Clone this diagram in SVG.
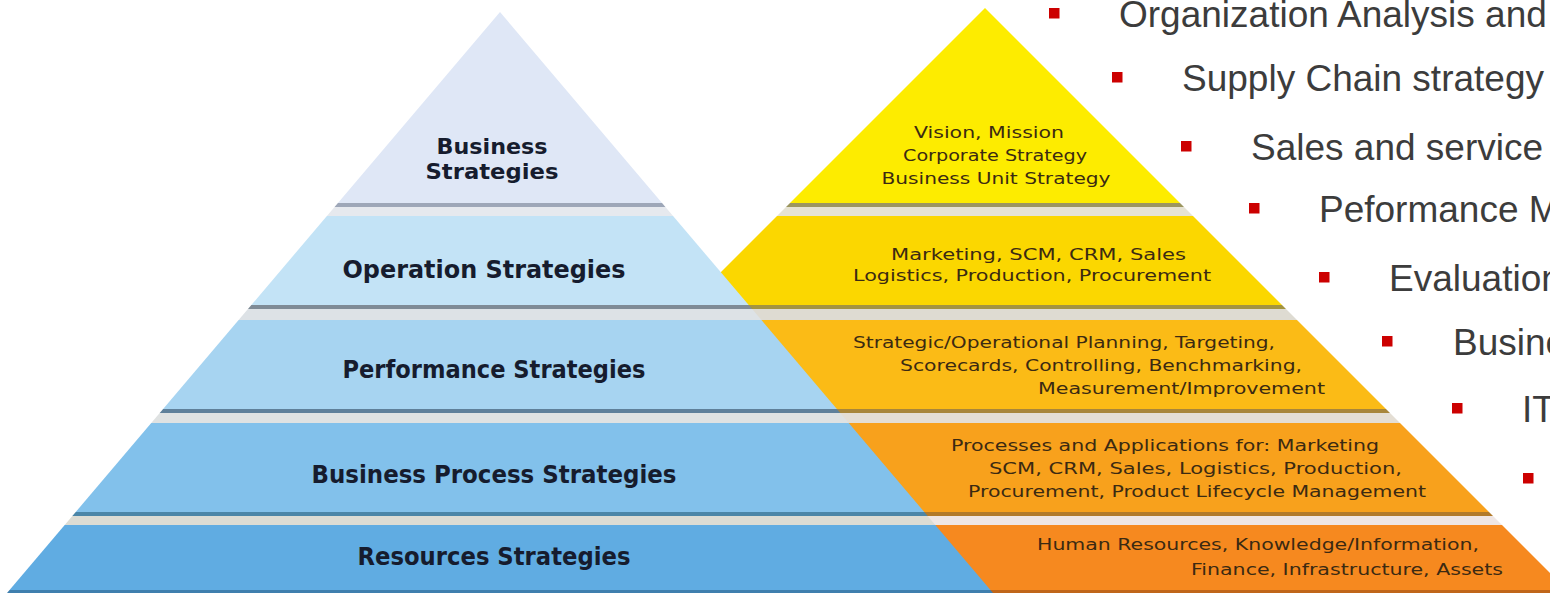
<svg xmlns="http://www.w3.org/2000/svg" width="1550" height="593" viewBox="0 0 1550 593">
<defs>
<style>
.bt{font-family:"DejaVu Sans","Liberation Sans",sans-serif;font-weight:bold;font-size:24px;fill:#161c2e;text-anchor:middle}
.bts{font-size:21.5px}
.ot{font-family:"DejaVu Sans","Liberation Sans",sans-serif;font-size:16px;fill:#3b2a12}
.otc{text-anchor:middle}
.lt{font-family:"Liberation Sans",Arial,sans-serif;font-size:37px;fill:#3c3c3c}
.bul{fill:#cc0000}
</style>
<clipPath id="co"><polygon points="985,8 400,593 1570,593"/></clipPath>
<clipPath id="cb"><polygon points="500,12 7,593 993,593"/></clipPath>
</defs>
<rect width="1550" height="593" fill="#ffffff"/>

<g id="content-pyramid" clip-path="url(#co)">
  <g id="c-vision">
    <rect x="400" y="0" width="1170" height="203" fill="#fdec00"/>
    <rect x="400" y="203" width="1170" height="4" fill="#9c9660"/>
    <rect x="400" y="207" width="1170" height="9" fill="#e6e3d4"/>
    <text class="ot otc" x="989" y="138" textLength="150" lengthAdjust="spacingAndGlyphs">Vision, Mission</text>
    <text class="ot otc" x="995" y="161" textLength="184" lengthAdjust="spacingAndGlyphs">Corporate Strategy</text>
    <text class="ot otc" x="996" y="184" textLength="229" lengthAdjust="spacingAndGlyphs">Business Unit Strategy</text>
  </g>
  <g id="c-operation">
    <rect x="400" y="216" width="1170" height="89" fill="#fbd700"/>
    <rect x="400" y="305" width="1170" height="4" fill="#a39440"/>
    <rect x="400" y="309" width="1170" height="11" fill="#dedbd2"/>
    <text class="ot" x="891" y="260" textLength="295" lengthAdjust="spacingAndGlyphs">Marketing, SCM, CRM, Sales</text>
    <text class="ot" x="853" y="281" textLength="358" lengthAdjust="spacingAndGlyphs">Logistics, Production, Procurement</text>
  </g>
  <g id="c-performance">
    <rect x="400" y="320" width="1170" height="89" fill="#fbbb16"/>
    <rect x="400" y="409" width="1170" height="4" fill="#a8863a"/>
    <rect x="400" y="413" width="1170" height="10" fill="#e4ded4"/>
    <text class="ot" x="853" y="348" textLength="422" lengthAdjust="spacingAndGlyphs">Strategic/Operational Planning, Targeting,</text>
    <text class="ot" x="900" y="371" textLength="402" lengthAdjust="spacingAndGlyphs">Scorecards, Controlling, Benchmarking,</text>
    <text class="ot" x="1038" y="394" textLength="287" lengthAdjust="spacingAndGlyphs">Measurement/Improvement</text>
  </g>
  <g id="c-process">
    <rect x="400" y="423" width="1170" height="89" fill="#f8a11c"/>
    <rect x="400" y="512" width="1170" height="4" fill="#b27a2a"/>
    <rect x="400" y="516" width="1170" height="9" fill="#efe6e4"/>
    <text class="ot" x="951" y="451" textLength="428" lengthAdjust="spacingAndGlyphs">Processes and Applications for: Marketing</text>
    <text class="ot" x="989" y="474" textLength="413" lengthAdjust="spacingAndGlyphs">SCM, CRM, Sales, Logistics, Production,</text>
    <text class="ot" x="968" y="497" textLength="458" lengthAdjust="spacingAndGlyphs">Procurement, Product Lifecycle Management</text>
  </g>
  <g id="c-resources">
    <rect x="400" y="525" width="1170" height="65" fill="#f6891f"/>
    <rect x="400" y="590" width="1170" height="3" fill="#c0661a"/>
    <text class="ot" x="1037" y="550" textLength="442" lengthAdjust="spacingAndGlyphs">Human Resources, Knowledge/Information,</text>
    <text class="ot" x="1191" y="575" textLength="312" lengthAdjust="spacingAndGlyphs">Finance, Infrastructure, Assets</text>
  </g>
</g>

<g id="strategy-pyramid" clip-path="url(#cb)">
  <g id="s-business">
    <rect x="0" y="0" width="1000" height="203" fill="#dfe7f6"/>
    <rect x="0" y="203" width="1000" height="4" fill="#9ea7b8"/>
    <rect x="0" y="207" width="1000" height="9" fill="#e6e9ee"/>
    <text class="bt bts" x="492" y="154" textLength="111" lengthAdjust="spacingAndGlyphs">Business</text>
    <text class="bt bts" x="492" y="179" textLength="133" lengthAdjust="spacingAndGlyphs">Strategies</text>
  </g>
  <g id="s-operation">
    <rect x="0" y="216" width="1000" height="89" fill="#c3e3f6"/>
    <rect x="0" y="305" width="1000" height="4" fill="#7f8b96"/>
    <rect x="0" y="309" width="1000" height="11" fill="#dde2e6"/>
    <text class="bt" x="484" y="278" textLength="283" lengthAdjust="spacingAndGlyphs">Operation Strategies</text>
  </g>
  <g id="s-performance">
    <rect x="0" y="320" width="1000" height="89" fill="#a7d4f1"/>
    <rect x="0" y="409" width="1000" height="4" fill="#5f809a"/>
    <rect x="0" y="413" width="1000" height="10" fill="#dfe2e2"/>
    <text class="bt" x="494" y="378" textLength="303" lengthAdjust="spacingAndGlyphs">Performance Strategies</text>
  </g>
  <g id="s-process">
    <rect x="0" y="423" width="1000" height="89" fill="#82c1eb"/>
    <rect x="0" y="512" width="1000" height="4" fill="#4b86a8"/>
    <rect x="0" y="516" width="1000" height="9" fill="#dcdcd4"/>
    <text class="bt" x="494" y="483" textLength="365" lengthAdjust="spacingAndGlyphs">Business Process Strategies</text>
  </g>
  <g id="s-resources">
    <rect x="0" y="525" width="1000" height="65" fill="#60ace2"/>
    <rect x="0" y="590" width="1000" height="3" fill="#3f7fae"/>
    <text class="bt" x="494" y="565" textLength="273" lengthAdjust="spacingAndGlyphs">Resources Strategies</text>
  </g>
</g>

<g id="bullet-list">
  <g id="item1"><rect class="bul" x="1049" y="8" width="10.5" height="10.5"/><text class="lt" x="1119" y="26.5">Organization Analysis and</text></g>
  <g id="item2"><rect class="bul" x="1112" y="72" width="10.5" height="10.5"/><text class="lt" x="1182" y="90.5">Supply Chain strategy</text></g>
  <g id="item3"><rect class="bul" x="1181" y="141" width="10.5" height="10.5"/><text class="lt" x="1251" y="159.5">Sales and service</text></g>
  <g id="item4"><rect class="bul" x="1249" y="203" width="10.5" height="10.5"/><text class="lt" x="1319" y="221.5">Peformance M</text></g>
  <g id="item5"><rect class="bul" x="1319" y="272" width="10.5" height="10.5"/><text class="lt" x="1389" y="290.5">Evaluation</text></g>
  <g id="item6"><rect class="bul" x="1382" y="336" width="10.5" height="10.5"/><text class="lt" x="1453" y="354.5">Busine</text></g>
  <g id="item7"><rect class="bul" x="1452" y="403" width="10.5" height="10.5"/><text class="lt" x="1522" y="421.5">IT</text></g>
  <g id="item8"><rect class="bul" x="1523" y="473" width="10.5" height="10.5"/></g>
</g>
</svg>
